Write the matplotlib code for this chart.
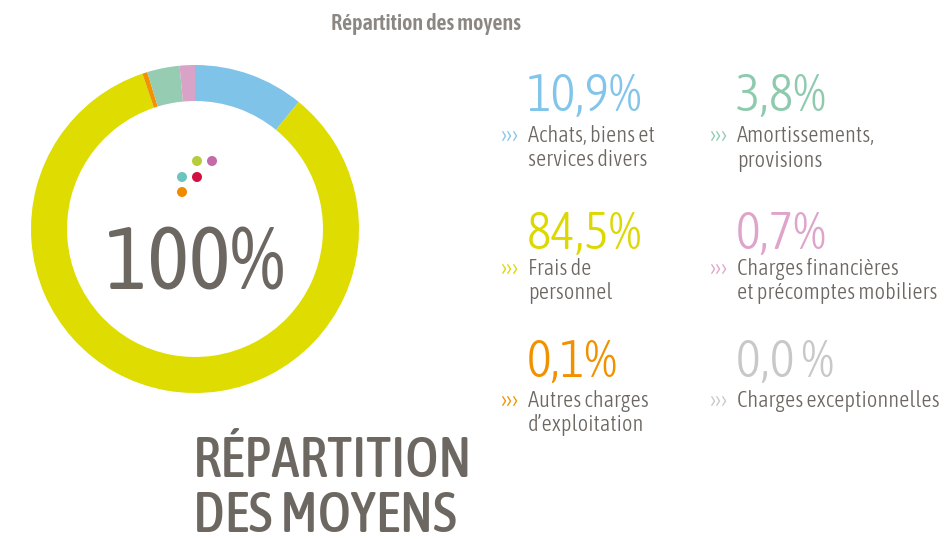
import matplotlib
matplotlib.use("Agg")
import matplotlib.pyplot as plt

# ---------- data ----------
CATEGORIES = [
    "Achats, biens et\nservices divers",
    "Amortissements,\nprovisions",
    "Frais de\npersonnel",
    "Charges financières\net précomptes mobiliers",
    "Autres charges\nd’exploitation",
    "Charges exceptionnelles",
]
VALUE_LABELS = ["10,9%", "3,8%", "84,5%", "0,7%", "0,1%", "0,0 %"]
TEXT_COLORS = ["#82c4ea", "#8ecbae", "#dcd800", "#dea4ca", "#f29100", "#c8c8c8"]

# ring, clockwise from 12 o'clock (shares as drawn in the ring)
RING_NAMES = ["achats", "personnel", "autres", "amortissements", "financieres"]
RING_SHARES = [10.9, 83.9, 0.5, 3.2, 1.5]
RING_COLORS = ["#7fc3e8", "#dedc00", "#f39200", "#95ccb2", "#d9a2c7"]

# small logo dots in the middle
DOT_X = [197, 212, 182, 197, 182]
DOT_Y = [161, 161, 177, 177, 192]
DOT_COLORS = ["#b6cc3c", "#c36aa9", "#6cc4bf", "#d20f42", "#f08a00"]

FONT = "Asap Condensed"
GREY = "#6d6762"
W, H = 944, 539

fig = plt.figure(figsize=(W / 100, H / 100), dpi=100)

# ---------- donut ----------
cx, cy, r = 195, 229, 164
pax = fig.add_axes([(cx - r) / W, (H - cy - r) / H, 2 * r / W, 2 * r / H])
pax.pie(RING_SHARES, colors=RING_COLORS, startangle=90, counterclock=False,
        radius=1.0, wedgeprops=dict(width=36 / r, linewidth=0))
pax.set_xlim(-1, 1)
pax.set_ylim(-1, 1)
pax.set_aspect("equal")
pax.axis("off")

# ---------- overlay in pixel coords ----------
ax = fig.add_axes([0, 0, 1, 1])
ax.set_xlim(0, W)
ax.set_ylim(H, 0)
ax.axis("off")

ax.text(426, 30, "Répartition des moyens", ha="center", va="baseline",
        family=FONT, fontweight=600, fontsize=15.8, color="#8c8782")

ax.scatter(DOT_X, DOT_Y, s=52, c=DOT_COLORS, linewidths=0, zorder=3)

ax.text(195, 290, "100%", ha="center", va="baseline", family=FONT,
        fontweight=400, fontsize=63.5, color=GREY)

ax.text(193, 477, "RÉPARTITION", ha="left", va="baseline", family=FONT,
        fontweight=500, fontsize=40.5, color=GREY)
ax.text(193, 532, "DES MOYENS", ha="left", va="baseline", family=FONT,
        fontweight=500, fontsize=40.5, color=GREY)

# legend blocks: 2 columns x 3 rows
col_x = [528, 737]
num_base = [111, 249, 377]
lab_base = [142, 275, 407]
line_gap = 24.5

for i, (cat, val, col) in enumerate(zip(CATEGORIES, VALUE_LABELS, TEXT_COLORS)):
    row, c = divmod(i, 2)
    x = col_x[c]
    ax.text(x - 1, num_base[row], val, ha="left", va="baseline", family=FONT,
            fontweight=300, fontsize=37.5, color=col)
    ax.text(x - 27, lab_base[row] + 1, "›››", ha="left", va="baseline",
            family=FONT, fontweight=300, fontsize=18, color=col)
    for k, line in enumerate(cat.split("\n")):
        ax.text(x, lab_base[row] + k * line_gap, line, ha="left", va="baseline",
                family=FONT, fontweight=300, fontsize=16.2, color=GREY)

fig.savefig("out.png", dpi=100)
